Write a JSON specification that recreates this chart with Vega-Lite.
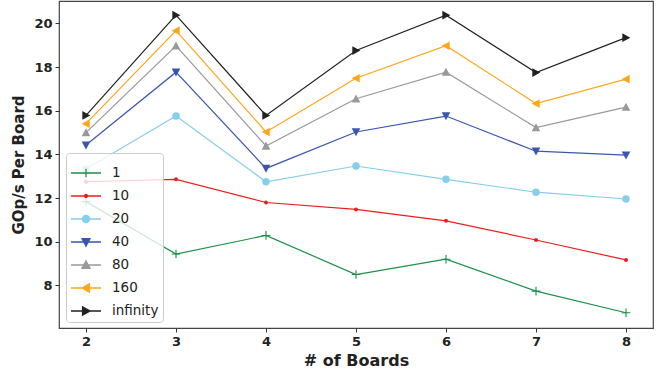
{
  "$schema": "https://vega.github.io/schema/vega-lite/v6.json",
  "width": 594,
  "height": 327,
  "autosize": {"type": "none"},
  "padding": {"left": 59, "top": 1, "right": 17, "bottom": 44},
  "config": {
    "font": "DejaVu Sans",
    "view": {"stroke": "#444", "strokeWidth": 1.2},
    "axis": {"grid": false, "domain": false, "tickColor": "#333", "tickSize": 4, "labelFont": "DejaVu Sans", "labelFontWeight": "bold", "labelFontSize": 13, "labelColor": "#222", "titleFont": "DejaVu Sans", "titleFontWeight": "bold", "titleFontSize": 15, "titleColor": "#222"},
    "legend": {"orient": "bottom-left", "offset": 6.5, "padding": 4, "fillColor": "rgba(255,255,255,0.8)", "strokeColor": "#cccccc", "cornerRadius": 3, "labelFontSize": 13.5, "labelFont": "DejaVu Sans", "labelColor": "#222", "labelOffset": 10, "rowPadding": -7, "symbolSize": 900, "symbolStrokeWidth": 1.3, "symbolOpacity": 1}
  },
  "data": {"values": [
    {"boards": 2, "series": "1", "v": 11.84}, {"boards": 3, "series": "1", "v": 9.44}, {"boards": 4, "series": "1", "v": 10.29}, {"boards": 5, "series": "1", "v": 8.50}, {"boards": 6, "series": "1", "v": 9.20}, {"boards": 7, "series": "1", "v": 7.74}, {"boards": 8, "series": "1", "v": 6.75},
    {"boards": 2, "series": "10", "v": 12.75}, {"boards": 3, "series": "10", "v": 12.86}, {"boards": 4, "series": "10", "v": 11.80}, {"boards": 5, "series": "10", "v": 11.48}, {"boards": 6, "series": "10", "v": 10.96}, {"boards": 7, "series": "10", "v": 10.08}, {"boards": 8, "series": "10", "v": 9.17},
    {"boards": 2, "series": "20", "v": 13.33}, {"boards": 3, "series": "20", "v": 15.76}, {"boards": 4, "series": "20", "v": 12.75}, {"boards": 5, "series": "20", "v": 13.47}, {"boards": 6, "series": "20", "v": 12.86}, {"boards": 7, "series": "20", "v": 12.27}, {"boards": 8, "series": "20", "v": 11.96},
    {"boards": 2, "series": "40", "v": 14.43}, {"boards": 3, "series": "40", "v": 17.77}, {"boards": 4, "series": "40", "v": 13.36}, {"boards": 5, "series": "40", "v": 15.03}, {"boards": 6, "series": "40", "v": 15.76}, {"boards": 7, "series": "40", "v": 14.15}, {"boards": 8, "series": "40", "v": 13.97},
    {"boards": 2, "series": "80", "v": 15.0}, {"boards": 3, "series": "80", "v": 18.98}, {"boards": 4, "series": "80", "v": 14.39}, {"boards": 5, "series": "80", "v": 16.55}, {"boards": 6, "series": "80", "v": 17.77}, {"boards": 7, "series": "80", "v": 15.23}, {"boards": 8, "series": "80", "v": 16.17},
    {"boards": 2, "series": "160", "v": 15.41}, {"boards": 3, "series": "160", "v": 19.67}, {"boards": 4, "series": "160", "v": 15.03}, {"boards": 5, "series": "160", "v": 17.49}, {"boards": 6, "series": "160", "v": 18.98}, {"boards": 7, "series": "160", "v": 16.33}, {"boards": 8, "series": "160", "v": 17.45},
    {"boards": 2, "series": "infinity", "v": 15.79}, {"boards": 3, "series": "infinity", "v": 20.38}, {"boards": 4, "series": "infinity", "v": 15.79}, {"boards": 5, "series": "infinity", "v": 18.76}, {"boards": 6, "series": "infinity", "v": 20.38}, {"boards": 7, "series": "infinity", "v": 17.75}, {"boards": 8, "series": "infinity", "v": 19.35}
  ]},
  "encoding": {
    "x": {"field": "boards", "type": "quantitative", "title": "# of Boards", "scale": {"domain": [1.7, 8.3], "nice": false, "zero": false}, "axis": {"values": [2, 3, 4, 5, 6, 7, 8], "format": "d", "labelPadding": 3, "titlePadding": 4, "titleFontSize": 16}},
    "y": {"field": "v", "type": "quantitative", "title": "GOp/s Per Board", "scale": {"domain": [6.05, 21.03], "nice": false, "zero": false}, "axis": {"values": [8, 10, 12, 14, 16, 18, 20], "format": "d", "labelPadding": 3, "titlePadding": 7}}
  },
  "layer": [
    {"transform": [{"filter": "datum.series == '1'"}], "layer": [
      {"mark": {"type": "line", "strokeWidth": 1.2, "color": "#1a9048"}},
      {"mark": {"type": "point", "filled": true, "opacity": 1, "size": 75, "color": "#1a9048", "shape": "M-1,-0.13H-0.13V-1H0.13V-0.13H1V0.13H0.13V1H-0.13V0.13H-1Z"}}
    ]},
    {"transform": [{"filter": "datum.series == '10'"}], "layer": [
      {"mark": {"type": "line", "strokeWidth": 1.2, "color": "#f01c1c"}},
      {"mark": {"type": "point", "filled": true, "opacity": 1, "size": 16, "color": "#f01c1c", "shape": "circle"}}
    ]},
    {"transform": [{"filter": "datum.series == '20'"}], "layer": [
      {"mark": {"type": "line", "strokeWidth": 1.2, "color": "#87ceeb"}},
      {"mark": {"type": "point", "filled": true, "opacity": 1, "size": 56, "color": "#87ceeb", "shape": "circle"}}
    ]},
    {"transform": [{"filter": "datum.series == '40'"}], "layer": [
      {"mark": {"type": "line", "strokeWidth": 1.2, "color": "#3a56b0"}},
      {"mark": {"type": "point", "filled": true, "opacity": 1, "size": 75, "color": "#3a56b0", "shape": "M-1,-0.85L1,-0.85L0,1Z"}}
    ]},
    {"transform": [{"filter": "datum.series == '80'"}], "layer": [
      {"mark": {"type": "line", "strokeWidth": 1.2, "color": "#999999"}},
      {"mark": {"type": "point", "filled": true, "opacity": 1, "size": 75, "color": "#999999", "shape": "M-1,0.85L1,0.85L0,-1Z"}}
    ]},
    {"transform": [{"filter": "datum.series == '160'"}], "layer": [
      {"mark": {"type": "line", "strokeWidth": 1.2, "color": "#ffa51a"}},
      {"mark": {"type": "point", "filled": true, "opacity": 1, "size": 75, "color": "#ffa51a", "shape": "M0.85,-1L0.85,1L-1,0Z"}}
    ]},
    {"transform": [{"filter": "datum.series == 'infinity'"}], "layer": [
      {"mark": {"type": "line", "strokeWidth": 1.2, "color": "#222222"}},
      {"mark": {"type": "point", "filled": true, "opacity": 1, "size": 75, "color": "#222222", "shape": "M-0.85,-1L-0.85,1L1,0Z"}}
    ]},
    {"mark": {"type": "point", "filled": true, "opacity": 0},
      "encoding": {
        "color": {"field": "series", "type": "nominal", "legend": {"title": null}, "scale": {"domain": ["1", "10", "20", "40", "80", "160", "infinity"], "range": ["#1a9048", "#f01c1c", "#87ceeb", "#3a56b0", "#999999", "#ffa51a", "#222222"]}},
        "stroke": {"field": "series", "type": "nominal", "legend": {"title": null}, "scale": {"domain": ["1", "10", "20", "40", "80", "160", "infinity"], "range": ["#1a9048", "#f01c1c", "#87ceeb", "#3a56b0", "#999999", "#ffa51a", "#222222"]}},
        "shape": {"field": "series", "type": "nominal", "legend": {"title": null}, "scale": {"domain": ["1", "10", "20", "40", "80", "160", "infinity"], "range": [
          "M-1,0H1M0,-0.28V0.28",
          "M-1,0H1M-0.1,0A0.1,0.1 0 1,0 0.1,0A0.1,0.1 0 1,0 -0.1,0Z",
          "M-1,0H1M-0.24,0A0.24,0.24 0 1,0 0.24,0A0.24,0.24 0 1,0 -0.24,0Z",
          "M-1,0H1M-0.27,-0.23L0.27,-0.23L0,0.27Z",
          "M-1,0H1M-0.27,0.23L0.27,0.23L0,-0.27Z",
          "M-1,0H1M0.23,-0.27L0.23,0.27L-0.27,0Z",
          "M-1,0H1M-0.23,-0.27L-0.23,0.27L0.27,0Z"
        ]}}
      }
    }
  ]
}
